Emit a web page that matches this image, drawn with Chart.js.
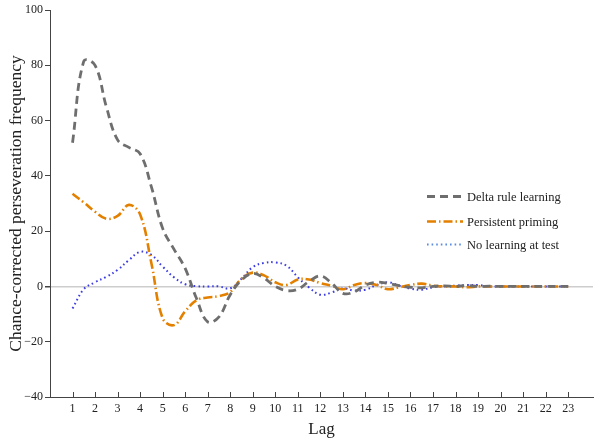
<!DOCTYPE html>
<html>
<head>
<meta charset="utf-8">
<script src="https://cdn.jsdelivr.net/npm/chart.js@4.4.1/dist/chart.umd.min.js"></script>
<style>
  html, body { margin: 0; padding: 0; background: #fff; }
  #wrap { width: 601px; height: 440px; position: relative; }
</style>
</head>
<body>
<div id="wrap"><canvas id="lagChart"></canvas></div>
<script>
// lag values (half steps so the curve shape is kept)
const lags = [1, 1.5, 2, 2.5, 3, 3.5, 4, 4.5, 5, 5.5, 6, 6.5, 7, 7.5, 8, 8.5, 9, 9.5, 10, 10.5,
  11, 11.5, 12, 12.5, 13, 13.5, 14, 14.5, 15, 15.5, 16, 16.5, 17, 17.5, 18, 18.5, 19, 19.5,
  20, 20.5, 21, 21.5, 22, 22.5, 23];
const tickLags = [1, 2, 3, 4, 5, 6, 7, 8, 9, 10, 11, 12, 13, 14, 15, 16, 17, 18, 19, 20, 21, 22, 23];
const yTicks = [-40, -20, 0, 20, 40, 60, 80, 100];

const seriesNames = ["Delta rule learning", "Persistent priming", "No learning at test"];

const deltaRule = [52, 81.5, 80, 65, 53, 50.3, 48, 36, 21, 13.5, 6.5, -4.3, -12.8, -11, -3, 2.3,
  4.7, 3, 0, -1.5, -1, 1.8, 3.8, 1.2, -2.5, -2, 0.5, 1.5, 1.1, 0.3, -0.3, -0.5, 0, 0.2, 0, 0.3,
  0, 0.1, 0, 0, 0, 0, 0, 0, 0];
const persistent = [33.5, 30.4, 27, 24.5, 25.5, 29.5, 26, 8.4, -11.5, -14, -9, -5, -4, -3.5, -2,
  2.8, 5, 4, 1.5, 0.5, 2.5, 2.5, 1.2, 0.2, -1, 0.5, 1.2, 0.5, -1, -0.3, 0.5, 1, 0.3, 0, 0, -0.3,
  0, 0, 0, 0, 0, 0, 0, 0, 0];
const noLearning = [-8, -1, 1.5, 3.5, 6, 9.5, 12.5, 11.4, 7.2, 3.3, 0.8, 0.1, 0, 0, -0.7, 2.8,
  7, 8.5, 8.7, 7.5, 3.3, -0.4, -3, -2.2, -0.7, -1.5, -1.2, 0.5, 1.5, 0.3, -0.8, -1.2, -0.3, 0,
  0.3, 0.5, 0.5, 0, 0, 0, 0, 0, 0, 0, 0];

const FONT = "'Liberation Serif', 'DejaVu Serif', serif";
const colors = ['rgb(110,110,110)', 'rgb(228,128,0)', 'rgb(60,60,225)'];
const legendColors = ['rgb(110,110,110)', 'rgb(228,128,0)', 'rgb(90,140,225)'];
const dashes = [[8, 5], [9, 3, 1.5, 3], [1.6, 3]];
const widths = [2.8, 2.6, 2];

function toPoints(vals) {
  let pts = [];
  for (let i = 0; i < lags.length; i++) pts.push({x: lags[i], y: vals[i]});
  return pts;
}

function makeSet(i, vals) {
  return {
    label: seriesNames[i],
    data: toPoints(vals),
    borderColor: colors[i],
    borderWidth: widths[i],
    borderDash: dashes[i],
    pointRadius: 0,
    tension: 0.4,
    fill: false
  };
}

// legend drawn inside the plot, like the original
const sideLegend = {
  id: 'sideLegend',
  afterDatasetsDraw(chart) {
    const ctx = chart.ctx;
    const rows = [196.5, 221.5, 244.5];
    ctx.save();
    for (let i = 0; i < 3; i++) {
      ctx.strokeStyle = legendColors[i];
      ctx.lineWidth = widths[i];
      ctx.setLineDash(dashes[i]);
      ctx.beginPath();
      ctx.moveTo(427, rows[i]);
      ctx.lineTo(463, rows[i]);
      ctx.stroke();
      ctx.setLineDash([]);
      ctx.fillStyle = '#222';
      ctx.font = "12.5px " + FONT;
      ctx.textBaseline = 'middle';
      ctx.textAlign = 'left';
      ctx.fillText(seriesNames[i], 467, rows[i] + 1);
    }
    ctx.restore();
  }
};

// x tick marks point up into the plot
const innerTicks = {
  id: 'innerTicks',
  afterDraw(chart) {
    const ctx = chart.ctx;
    const xs = chart.scales.x;
    const bottom = chart.chartArea.bottom;
    ctx.save();
    ctx.strokeStyle = '#444';
    ctx.lineWidth = 1;
    tickLags.forEach(function (v) {
      const px = Math.round(xs.getPixelForValue(v)) + 0.5;
      ctx.beginPath();
      ctx.moveTo(px, bottom);
      ctx.lineTo(px, bottom - 5);
      ctx.stroke();
    });
    ctx.restore();
  }
};

let lagChart = new Chart(document.getElementById('lagChart'), {
  type: 'line',
  data: {
    datasets: [makeSet(0, deltaRule), makeSet(1, persistent), makeSet(2, noLearning)]
  },
  options: {
    responsive: true,
    maintainAspectRatio: false,
    animation: false,
    layout: { padding: { top: 10, right: 8, left: 0, bottom: 0 } },
    plugins: { legend: { display: false }, tooltip: { enabled: false } },
    scales: {
      x: {
        type: 'linear',
        min: 0,
        max: 24.1,
        afterBuildTicks: function (scale) {
          scale.ticks = tickLags.map(function (v) { return {value: v}; });
        },
        afterFit: function (scale) { scale.height = 43; },
        grid: { drawOnChartArea: false, drawTicks: false },
        border: { display: true, color: '#444', width: 1 },
        ticks: { color: '#222', padding: 5, maxRotation: 0, autoSkip: false,
                 font: { family: FONT, size: 12 } },
        title: { display: true, text: 'Lag', color: '#222', padding: { top: 0, bottom: 0 },
                 font: { family: FONT, size: 17 } }
      },
      y: {
        min: -40,
        max: 100,
        afterBuildTicks: function (scale) {
          scale.ticks = yTicks.map(function (v) { return {value: v}; });
        },
        afterFit: function (scale) { scale.width = 50; },
        grid: {
          drawOnChartArea: true,
          color: function (c) { return c.tick && c.tick.value === 0 ? 'rgb(205,205,205)' : 'rgba(0,0,0,0)'; },
          lineWidth: function (c) { return c.tick && c.tick.value === 0 ? 1.5 : 1; },
          tickColor: '#444',
          tickLength: 5
        },
        border: { display: true, color: '#444', width: 1 },
        ticks: {
          color: '#222', padding: 2,
          font: { family: FONT, size: 12 },
          callback: function (v) { return String(v).replace('-', '\u2212'); }
        },
        title: { display: true, text: 'Chance-corrected perseveration frequency', color: '#222',
                 padding: { top: 6, bottom: 0 }, font: { family: FONT, size: 17.5 } }
      }
    }
  },
  plugins: [sideLegend, innerTicks]
});
</script>
</body>
</html>
